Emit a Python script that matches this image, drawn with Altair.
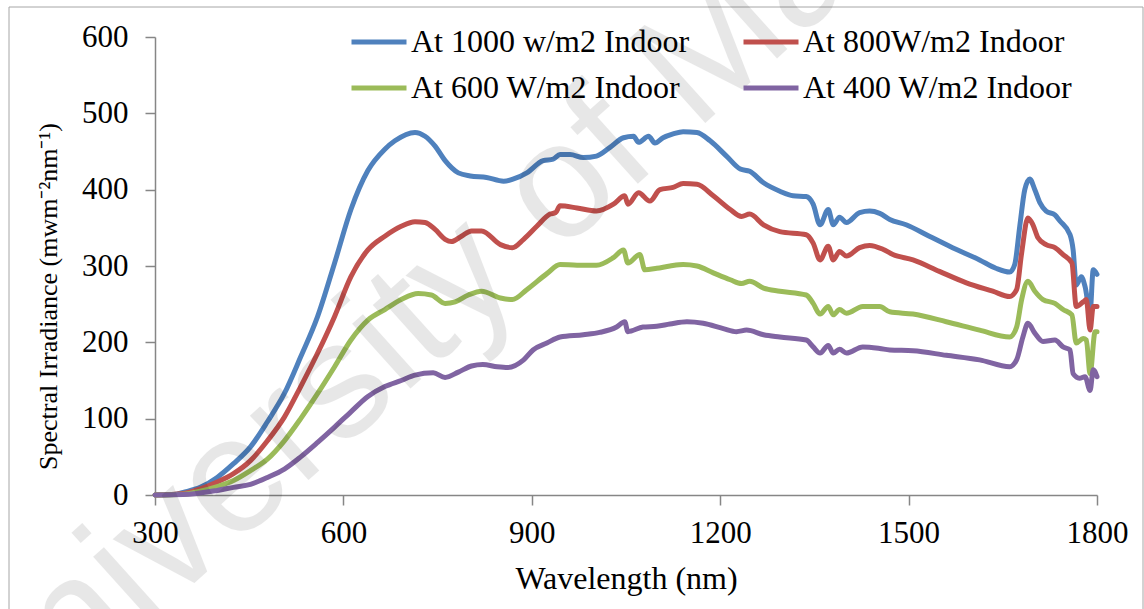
import altair as alt
import pandas as pd

# ---- data ----
series_names = ["At 1000 w/m2 Indoor", "At 800W/m2 Indoor", "At 600 W/m2 Indoor", "At 400 W/m2 Indoor"]
series_colors = ["#4F81BD", "#C0504D", "#9BBB59", "#8064A2"]
# legend fills column by column, so list the entries in that order
legend_order = [0, 2, 1, 3]

wl_1000 = [300, 330, 345, 372, 399, 425, 452, 479, 506, 532, 559, 586, 612, 639, 666, 682, 714, 730, 746, 762,
           783, 802, 828, 855, 871, 892, 918, 934, 945, 961, 982, 1003, 1024, 1046, 1062, 1070, 1086, 1096, 1109,
           1125, 1141, 1163, 1184, 1210, 1232, 1247, 1269, 1295, 1316, 1337, 1348, 1359, 1372, 1380, 1390, 1401,
           1422, 1438, 1454, 1470, 1496, 1533, 1570, 1613, 1639, 1661, 1669, 1677, 1685, 1693, 1701, 1709, 1719,
           1733, 1741, 1757, 1762, 1767, 1775, 1781, 1789, 1794, 1800]
val_1000 = [0, 0.5, 3.5, 10, 23, 41, 63, 96, 133, 181, 234, 304, 374, 425, 453, 464, 475, 470, 457, 438,
            422, 418, 416, 411, 414, 422, 438, 440, 446, 446, 442, 444, 455, 468, 470, 462, 470, 461, 468,
            473, 476, 475, 464, 444, 427, 424, 409, 398, 392, 391, 381, 354, 374, 354, 364, 357,
            370, 372, 369, 361, 354, 339, 324, 308, 297, 292, 302, 352, 400, 414, 400, 383, 372,
            367, 359, 341, 321, 275, 286, 273, 240, 295, 289]

wl_800 = [300, 345, 372, 399, 425, 452, 479, 506, 532, 559, 586, 612, 639, 666, 692, 714, 730, 746, 762, 772,
          788, 804, 820, 850, 869, 887, 908, 929, 938, 945, 972, 1003, 1030, 1048, 1053, 1070, 1088, 1104, 1125,
          1141, 1163, 1189, 1216, 1234, 1247, 1269, 1295, 1337, 1348, 1359, 1372, 1380, 1390, 1401, 1422, 1438,
          1459, 1475, 1507, 1549, 1592, 1634, 1661, 1672, 1680, 1690, 1698, 1706, 1719, 1733, 1746, 1760, 1767,
          1778, 1783, 1789, 1794, 1800]
val_800 = [0, 2, 8, 17, 28, 45, 71, 102, 142, 186, 234, 286, 321, 339, 352, 358, 357, 348, 335, 332,
           339, 346, 346, 328, 324, 335, 352, 368, 370, 379, 376, 372, 381, 392, 381, 396, 385, 400, 403,
           408, 407, 392, 374, 365, 368, 354, 345, 341, 330, 308, 326, 308, 319, 313, 324, 327,
           322, 315, 308, 293, 278, 267, 260, 269, 317, 363, 354, 337, 328, 324, 315, 304, 247,
           253, 256, 216, 247, 247]

wl_600 = [300, 345, 372, 399, 425, 452, 479, 506, 532, 559, 586, 612, 639, 666, 692, 719, 740, 762, 778, 799,
          820, 850, 869, 892, 924, 945, 972, 1003, 1030, 1046, 1053, 1072, 1080, 1099, 1120, 1141, 1163, 1189,
          1216, 1234, 1247, 1269, 1295, 1337, 1348, 1359, 1372, 1380, 1390, 1401, 1427, 1454, 1470, 1507, 1560,
          1613, 1661, 1672, 1680, 1690, 1701, 1714, 1733, 1746, 1760, 1767, 1778, 1783, 1789, 1797, 1800]
val_600 = [0, 1, 5, 11, 19, 32, 47, 71, 100, 133, 168, 203, 229, 243, 256, 264, 262, 251, 253, 262,
           267, 258, 256, 269, 290, 302, 301, 301, 311, 321, 304, 315, 295, 297, 300, 302, 300, 291,
           282, 277, 280, 271, 267, 262, 251, 237, 247, 236, 243, 238, 247, 247, 240, 237, 227,
           216, 207, 220, 256, 280, 267, 256, 251, 243, 236, 199, 205, 203, 159, 214, 214]

wl_400 = [300, 345, 399, 425, 452, 479, 506, 532, 559, 586, 612, 639, 666, 692, 714, 743, 762, 783, 804, 822,
          845, 862, 887, 902, 924, 945, 982, 1008, 1035, 1048, 1053, 1077, 1099, 1120, 1147, 1173, 1205, 1226,
          1242, 1269, 1295, 1337, 1348, 1359, 1372, 1380, 1390, 1401, 1427, 1454, 1470, 1507, 1560, 1613, 1661,
          1672, 1682, 1690, 1701, 1714, 1733, 1746, 1757, 1762, 1772, 1781, 1789, 1794, 1800]
val_400 = [0, 0.5, 6, 10, 14, 23, 34, 50, 69, 89, 109, 129, 142, 150, 157, 160, 154, 161, 169, 171,
           168, 167, 177, 190, 199, 207, 210, 213, 220, 227, 214, 220, 221, 224, 227, 225, 218, 214,
           216, 210, 207, 203, 194, 186, 196, 186, 191, 186, 194, 192, 190, 189, 183, 177, 168,
           177, 207, 225, 212, 201, 203, 194, 190, 159, 153, 155, 137, 164, 155]

x_ticks = [300, 600, 900, 1200, 1500, 1800]
y_ticks = [0, 100, 200, 300, 400, 500, 600]
watermark = ["University of Malaya"]

# ---- table built from the arrays ----
rows = []
for name, wl, val in zip(series_names,
                         [wl_1000, wl_800, wl_600, wl_400],
                         [val_1000, val_800, val_600, val_400]):
    for w, v in zip(wl, val):
        rows.append({"series": name, "wavelength": w, "irradiance": v})
df = pd.DataFrame(rows)

domain_sorted = [series_names[i] for i in legend_order]
range_sorted = [series_colors[i] for i in legend_order]

FONT = "Liberation Serif"
AXIS_GRAY = "#868686"

lines = alt.Chart(df).mark_line(
    strokeWidth=5, interpolate="monotone", strokeCap="round", strokeJoin="round"
).encode(
    x=alt.X("wavelength:Q",
            scale=alt.Scale(domain=[300, 1800], nice=False, zero=False),
            axis=alt.Axis(values=x_ticks, format="d", title="Wavelength (nm)", grid=False,
                          labelFont=FONT, labelFontSize=31, labelColor="black",
                          labelPadding=13, labelFlush=False, labelOverlap=False,
                          tickSize=10, tickColor=AXIS_GRAY, tickWidth=1.5,
                          domainColor=AXIS_GRAY, domainWidth=1.5,
                          titleFont=FONT, titleFontSize=32, titleFontWeight="normal",
                          titleColor="black", titleY=93, titleBaseline="alphabetic")),
    y=alt.Y("irradiance:Q",
            scale=alt.Scale(domain=[0, 600], nice=False),
            axis=alt.Axis(values=y_ticks, format="d", title="Spectral Irradiance (mwm⁻²nm⁻¹)", grid=False,
                          labelFont=FONT, labelFontSize=31, labelColor="black",
                          labelPadding=17, labelFlush=False,
                          tickSize=10, tickColor=AXIS_GRAY, tickWidth=1.5,
                          domainColor=AXIS_GRAY, domainWidth=1.5,
                          titleFont=FONT, titleFontSize=26, titleFontWeight="normal",
                          titleColor="black", titleX=-107, titleY=259,
                          titleBaseline="middle", titleAlign="center")),
    color=alt.Color("series:N",
                    scale=alt.Scale(domain=domain_sorted, range=range_sorted),
                    legend=alt.Legend(title=None, orient="none", legendX=194, legendY=-25,
                                      columns=2, symbolType="stroke", symbolSize=3025,
                                      symbolStrokeWidth=5, labelFont=FONT, labelFontSize=32,
                                      labelColor="black", labelLimit=0, labelOffset=2,
                                      columnPadding=43, rowPadding=0, padding=0)),
)

frame = alt.Chart(pd.DataFrame({"k": [0]})).mark_rect(
    fillOpacity=0, stroke="#a6a6a6", strokeWidth=1
).encode(x=alt.value(-146), x2=alt.value(988), y=alt.value(-30), y2=alt.value(590))

mark_wm = alt.Chart(pd.DataFrame({"t": watermark})).mark_text(
    font="Liberation Sans", fontSize=165, angle=318, color="black", opacity=0.09,
    align="center", baseline="middle"
).encode(text="t:N", x=alt.value(350), y=alt.value(199))

chart = alt.layer(frame, lines, mark_wm).properties(
    width=942, height=458,
    padding={"left": 155, "top": 37, "right": 47, "bottom": 114},
    autosize=alt.AutoSizeParams(type="none"),
    background="white",
).configure_view(strokeWidth=0)

chart.save("out.html", embed_options={"renderer": "svg", "actions": False})
